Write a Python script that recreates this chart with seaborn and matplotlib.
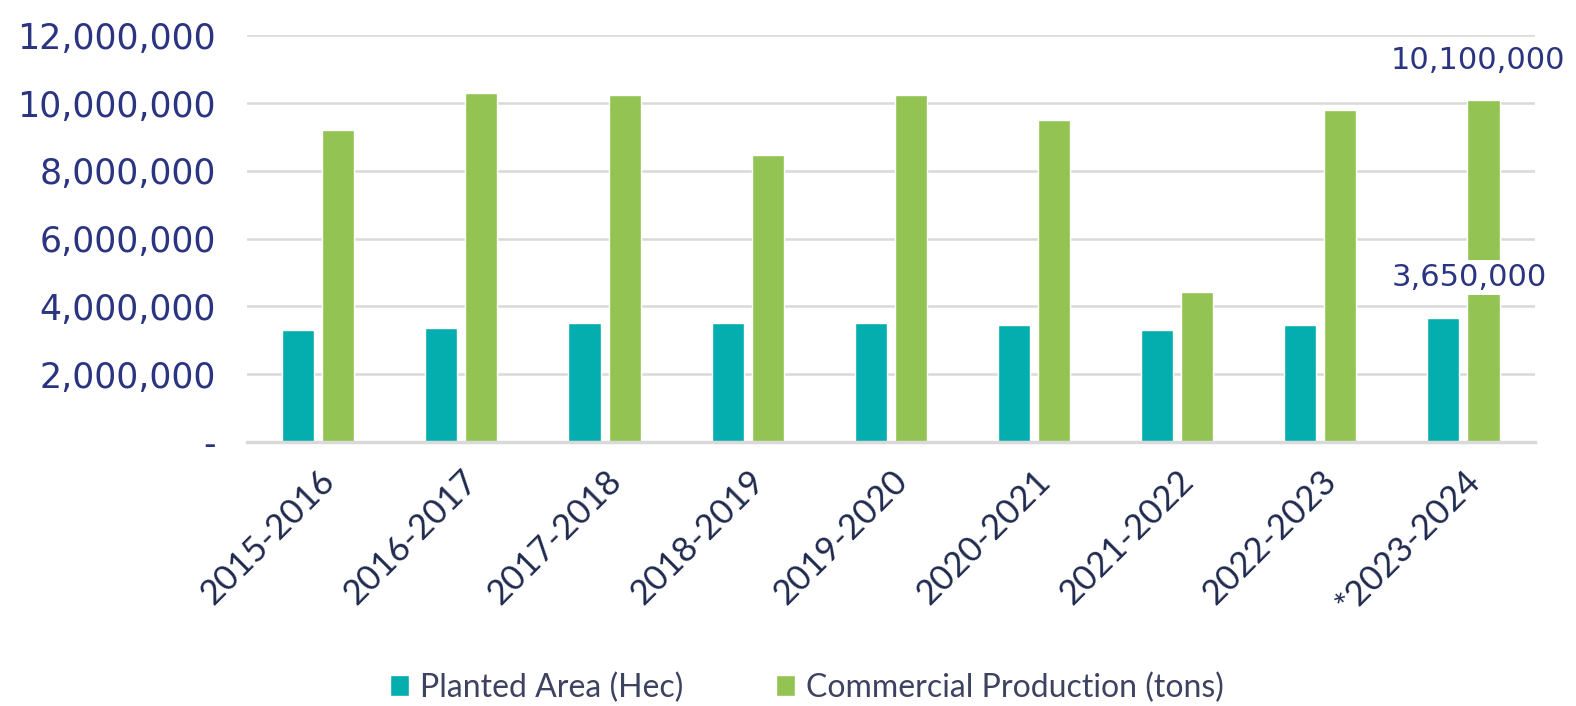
import numpy as np
import pandas as pd
import matplotlib
matplotlib.use("Agg")
import matplotlib.pyplot as plt
from matplotlib import ticker
import seaborn as sns

seasons = ["2015-2016", "2016-2017", "2017-2018", "2018-2019", "2019-2020",
           "2020-2021", "2021-2022", "2022-2023", "*2023-2024"]
planted_area = [3300000, 3370000, 3520000, 3520000, 3520000,
                3440000, 3290000, 3440000, 3650000]
commercial_prod = [9200000, 10310000, 10240000, 8470000, 10240000,
                   9500000, 4420000, 9800000, 10100000]
series_names = ["Planted Area (Hec)", "Commercial Production (tons)"]

teal = "#05AEAE"
green = "#92C353"
navy = "#2B3480"
dark = "#202A4E"
grid_col = "#D9D9D9"

df = pd.DataFrame({
    "season": seasons * 2,
    "value": planted_area + commercial_prod,
    "series": [series_names[0]] * len(seasons) + [series_names[1]] * len(seasons),
})

sns.set_style("white")
fig = plt.figure(figsize=(15.76, 7.06), dpi=100)
ax = fig.add_axes([0.1565, 0.374, 0.8175, 0.576])

sns.barplot(data=df, x="season", y="value", hue="series",
            palette=[teal, green], width=0.56, gap=0.2,
            saturation=1, ax=ax, errorbar=None)

ax.set_ylim(0, 12000000)
ax.set_xlim(-0.5, len(seasons) - 0.5)
ax.yaxis.set_major_locator(ticker.MultipleLocator(2000000))
ax.yaxis.set_major_formatter(ticker.FuncFormatter(
    lambda v, p: "-" if v == 0 else f"{int(v):,}"))
ax.grid(axis="y", color=grid_col, linewidth=1.8)
ax.set_axisbelow(True)
for s in ["top", "right", "left"]:
    ax.spines[s].set_visible(False)
ax.spines["bottom"].set_color(grid_col)
ax.spines["bottom"].set_linewidth(2.5)

ax.tick_params(axis="y", length=0, pad=22, labelsize=25, labelcolor=navy)
ax.tick_params(axis="x", length=0, pad=16)
ax.set_xticks(range(len(seasons)))
ax.set_xticklabels(seasons, rotation=45, ha="right", rotation_mode="anchor",
                   fontsize=25, color=dark, family="Lato")
ax.set_xlabel("")
ax.set_ylabel("")

# labels on the last season
last = len(seasons) - 1
ax.text(last + 0.1, commercial_prod[last] + 1150000, f"{commercial_prod[last]:,}",
        ha="center", va="center", fontsize=22, color=navy, clip_on=False)
ax.text(last + 0.04, planted_area[last] + 1200000, f"{planted_area[last]:,}",
        ha="center", va="center", fontsize=22, color=navy,
        bbox=dict(facecolor="white", edgecolor="none", pad=2))

handles, labels = ax.get_legend_handles_labels()
ax.get_legend().remove()
fig.legend(handles, labels, loc="center", bbox_to_anchor=(0.512, 0.026),
           ncol=2, frameon=False, handlelength=0.6,
           handleheight=0.6, handletextpad=0.35, columnspacing=2.9,
           prop={"family": "Lato", "size": 23}, labelcolor="#3D4260")

fig.savefig("out.png", dpi=100)
